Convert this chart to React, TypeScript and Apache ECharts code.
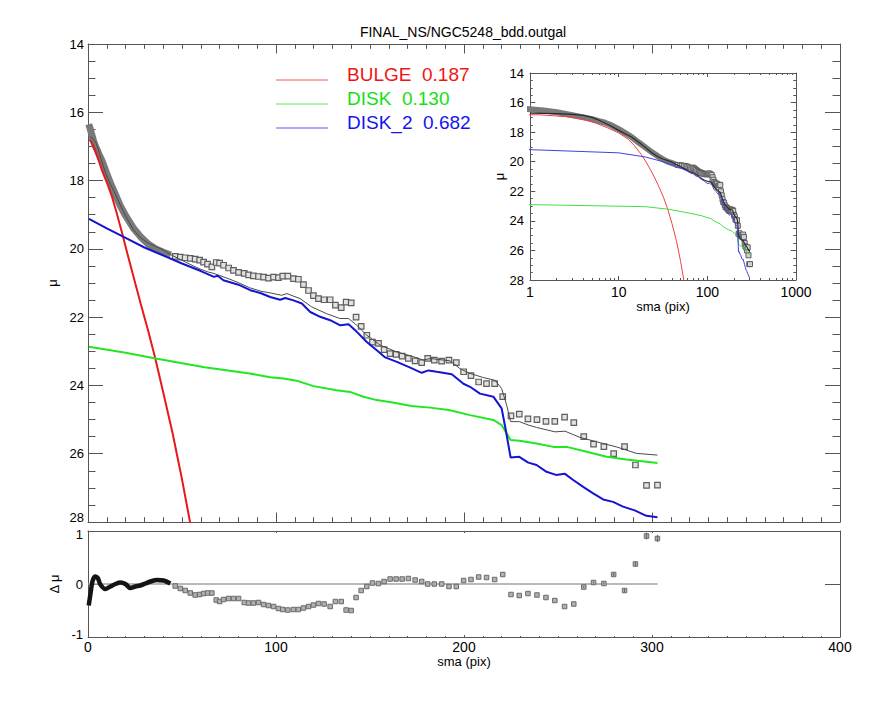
import React, { useEffect, useRef } from "react";
import * as echarts from "echarts";

const FONT = "Liberation Sans";
const AXC = "#555";

const titleText = "FINAL_NS/NGC5248_bdd.outgal";
const legendLabels = ["BULGE  0.187", "DISK  0.130", "DISK_2  0.682"];
const legendColors = ["#f01414", "#14e014", "#1414f0"];
const legendLineColors = ["#f05a5a", "#5ae65a", "#5a5af0"];

const mainXTicks = [0, 100, 200, 300, 400];
const residYLabels = [-1, 0, 1];
const mainYBottomLabel = 28;
const insetMinorTicks = [2, 3, 4, 5, 6, 7, 8, 9, 20, 30, 40, 50, 60, 70, 80, 90, 200, 300, 400, 500, 600, 700, 800, 900];

// inner (dense) data points
const innerSma = [0.4, 1, 1.5, 2, 3, 4, 5, 6, 7, 8, 10, 12, 14, 17, 20, 24, 28, 32, 36, 40, 44];
const innerMu = [16.35, 16.45, 16.55, 16.65, 16.85, 17.0, 17.12, 17.25, 17.36, 17.5, 17.8, 18.08, 18.33, 18.72, 19.03, 19.38, 19.65, 19.86, 20.0, 20.1, 20.18];

// outer data points
const outerSma = [46.4, 49.1, 51.7, 54.4, 57.0, 59.4, 61.5, 63.6, 65.9, 68.2, 70.0, 72.1, 74.8, 77.4, 80.1, 83.1, 85.4, 88.0, 90.7, 93.4, 96.0, 98.7, 101.3, 103.6, 106.3, 109.3, 111.9, 114.6, 117.3, 119.9, 122.6, 125.6, 128.8, 131.6, 134.7, 137.3, 140.0, 142.6, 145.3, 148.3, 151.3, 154.5, 157.5, 160.7, 163.9, 167.1, 170.4, 174.0, 177.5, 180.7, 184.2, 188.1, 192.0, 195.9, 199.8, 203.7, 207.8, 212.0, 216.3, 220.6, 225.0, 229.4, 234.0, 238.8, 243.6, 248.3, 253.5, 258.4, 263.7, 268.9, 274.4, 279.6, 285.4, 291.2, 297.1, 302.9];
const outerMu = [20.22, 20.24, 20.26, 20.28, 20.30, 20.33, 20.39, 20.45, 20.53, 20.40, 20.42, 20.48, 20.56, 20.63, 20.69, 20.72, 20.76, 20.79, 20.81, 20.83, 20.86, 20.83, 20.84, 20.80, 20.80, 20.87, 20.89, 21.05, 21.22, 21.37, 21.46, 21.49, 21.49, 21.65, 21.72, 21.56, 21.58, 22.00, 22.27, 22.53, 22.73, 22.77, 22.95, 23.07, 23.09, 23.14, 23.21, 23.28, 23.33, 23.21, 23.26, 23.29, 23.26, 23.33, 23.60, 23.71, 23.90, 23.95, 23.95, 24.33, 24.89, 24.84, 24.98, 25.00, 25.05, 25.05, 24.93, 25.09, 25.50, 25.72, 25.79, 26.00, 25.79, 26.33, 26.93, 26.92];
const outerResid = [-0.04, -0.09, -0.13, -0.18, -0.22, -0.21, -0.19, -0.18, -0.18, -0.32, -0.35, -0.31, -0.29, -0.29, -0.29, -0.37, -0.38, -0.38, -0.37, -0.41, -0.43, -0.45, -0.49, -0.51, -0.52, -0.51, -0.51, -0.48, -0.45, -0.42, -0.39, -0.40, -0.45, -0.35, -0.35, -0.52, -0.53, -0.27, -0.13, -0.05, 0.02, 0.01, 0.05, 0.10, 0.10, 0.10, 0.11, 0.08, 0.05, 0.00, 0.00, 0.00, -0.05, -0.05, 0.07, 0.09, 0.14, 0.13, 0.09, 0.19, -0.21, -0.23, -0.19, -0.22, -0.27, -0.33, -0.45, -0.40, -0.06, 0.03, 0.01, 0.19, -0.13, 0.40, 0.96, 0.91];
// error half-lengths of the last 8 residual points
const residErr = [0.02, 0.02, 0.02, 0.03, 0.04, 0.05, 0.07, 0.07];

// inner residuals
const residInnerSma = [0.4, 1.3, 2.5, 3.9, 5.2, 6.6, 9.2, 11.9, 14.6, 17.2, 19.9, 22.5, 25.2, 27.8, 30.5, 33.2, 36.7, 40.2, 43.8];
const residInnerVal = [-0.43, -0.2, 0.07, 0.15, 0.12, -0.01, -0.1, -0.05, 0, 0.03, 0, -0.08, -0.05, -0.03, 0.01, 0.05, 0.08, 0.07, 0.01];
const zeroLineSma = [0, 303];

// model components
const bulgeSma = [0.5, 1.3, 2.5, 3.9, 5.5, 7.5, 10, 12.8, 15, 18.1, 21, 24.6, 28, 32, 35.8, 40, 45, 50, 54.4, 57];
const bulgeMu = [16.82, 16.83, 16.95, 17.12, 17.38, 17.71, 18.05, 18.48, 18.9, 19.53, 20.15, 20.9, 21.6, 22.4, 23.21, 24.2, 25.4, 26.75, 28.04, 28.7];

const diskSma = [0.5, 20, 36, 62, 86, 96.9, 104, 111, 119.9, 132.3, 139.4, 146.5, 153.6, 162, 172, 182, 192, 203.2, 215.6, 220, 224.8, 229.5, 238.6, 247.5, 254.6, 265.3, 275.8, 286.4, 302.9];
const diskMu = [22.87, 23.04, 23.21, 23.47, 23.65, 23.76, 23.8, 23.86, 24.02, 24.14, 24.19, 24.33, 24.43, 24.5, 24.6, 24.65, 24.72, 24.87, 25.01, 25.16, 25.6, 25.62, 25.7, 25.8, 25.8, 25.94, 26.09, 26.17, 26.27];

const disk2Sma = [0.5, 10, 20, 30, 42, 50, 60, 67, 69, 72, 80, 86.3, 92, 96.9, 102.2, 104.9, 109.3, 113.8, 118.2, 123.5, 128.8, 134.2, 138.6, 143, 148.3, 153.6, 158.1, 164.3, 171.4, 177.5, 181.1, 185.5, 193.5, 199.7, 203.2, 208.5, 215.6, 220, 221.9, 224.8, 229.4, 234.2, 238.6, 243.9, 248.9, 253.7, 258.1, 263.4, 268.7, 274, 279.3, 284.6, 290.8, 297, 302.9];
const disk2Mu = [19.12, 19.4, 19.68, 19.96, 20.24, 20.43, 20.65, 20.82, 20.79, 20.92, 21.05, 21.21, 21.3, 21.41, 21.49, 21.44, 21.51, 21.6, 21.85, 21.99, 22.09, 22.24, 22.21, 22.43, 22.73, 22.97, 23.18, 23.31, 23.48, 23.63, 23.56, 23.6, 23.67, 23.95, 24.04, 24.24, 24.33, 24.67, 25.21, 26.11, 26.09, 26.26, 26.33, 26.53, 26.62, 26.59, 26.77, 26.97, 27.16, 27.34, 27.41, 27.55, 27.66, 27.82, 27.86];

const totalSma = [1, 2, 3, 4, 5, 6, 8, 10, 12, 14, 17, 20, 24, 28, 32, 36, 40, 44, 48, 52, 56, 60, 64, 67, 70, 75, 80, 86, 92, 96.9, 103, 105.8, 112.9, 119, 127, 134, 138.6, 143, 148.3, 155.4, 164.3, 173.2, 178.5, 182, 192.6, 197.9, 203.2, 210.3, 216.5, 220, 222.7, 224.8, 229.5, 234.2, 238.6, 248.4, 253.7, 261.6, 270.4, 281.1, 291.7, 302.9];
const totalMu = [16.72, 16.75, 16.8, 16.87, 17.0, 17.2, 17.55, 17.88, 18.12, 18.33, 18.7, 19.03, 19.43, 19.68, 19.83, 19.93, 20.03, 20.17, 20.28, 20.39, 20.5, 20.6, 20.68, 20.72, 20.78, 20.88, 20.99, 21.14, 21.24, 21.29, 21.36, 21.31, 21.46, 21.7, 21.9, 22.04, 22.04, 22.24, 22.53, 22.82, 23.02, 23.16, 23.26, 23.21, 23.28, 23.51, 23.65, 23.77, 23.85, 24.09, 24.58, 25.06, 25.06, 25.16, 25.23, 25.36, 25.34, 25.52, 25.65, 25.8, 25.99, 26.04];

const zip = (xs: number[], ys: number[]) => xs.map((x, i) => [x, ys[i]]);

function buildOption() {
  const lineStyleAx = { color: AXC, width: 1 };
  const labelStyle = { fontFamily: FONT, fontSize: 14, color: "#000" };
  const yLabelStyle = { fontFamily: FONT, fontSize: 13, color: "#000" };

  const valX = (grid: number, pos: string, showLabel: boolean, tickLen: number, minorLen: number, extra: any = {}) => ({
    type: "value",
    gridIndex: grid,
    position: pos,
    min: 0,
    max: 400,
    interval: 100,
    axisLine: { show: true, onZero: false, lineStyle: lineStyleAx },
    axisTick: { show: true, inside: true, length: tickLen, lineStyle: lineStyleAx },
    minorTick: { show: true, splitNumber: 10, length: minorLen, lineStyle: lineStyleAx },
    axisLabel: { show: showLabel, margin: 3, ...labelStyle },
    splitLine: { show: false },
    minorSplitLine: { show: false },
    ...extra,
  });

  const muY = (grid: number, pos: string, showLabel: boolean, tickLen: number, minorLen: number, margin: number, extra: any = {}, fmt?: (v: number) => string) => ({
    type: "value",
    gridIndex: grid,
    position: pos,
    min: 14,
    max: 28,
    interval: 2,
    inverse: true,
    axisLine: { show: true, onZero: false, lineStyle: lineStyleAx },
    axisTick: { show: true, inside: true, length: tickLen, lineStyle: lineStyleAx },
    minorTick: { show: true, splitNumber: 4, length: minorLen, lineStyle: lineStyleAx },
    axisLabel: { show: showLabel, margin, ...(fmt ? { formatter: fmt } : {}), ...yLabelStyle },
    splitLine: { show: false },
    minorSplitLine: { show: false },
    ...extra,
  });

  const logX = (pos: string, showLabel: boolean, extra: any = {}) => ({
    type: "log",
    logBase: 10,
    gridIndex: 2,
    position: pos,
    min: 1,
    max: 1000,
    axisLine: { show: true, onZero: false, lineStyle: lineStyleAx },
    axisTick: { show: true, inside: true, length: 4, lineStyle: lineStyleAx },
    minorTick: { show: false },
    axisLabel: { show: showLabel, margin: 5, formatter: (v: number) => String(Math.round(v)), ...labelStyle },
    splitLine: { show: false },
    ...extra,
  });

  const logMinor = (pos: string) => ({
    type: "log",
    logBase: 10,
    gridIndex: 2,
    position: pos,
    min: 1,
    max: 1000,
    axisLine: { show: false, onZero: false },
    axisTick: { show: true, inside: true, length: 2, customValues: insetMinorTicks, lineStyle: lineStyleAx },
    axisLabel: { show: false },
    splitLine: { show: false },
  });

  const residY = (pos: string, showLabel: boolean, extra: any = {}) => ({
    type: "value",
    gridIndex: 1,
    position: pos,
    min: -1.06,
    max: 1.06,
    axisLine: { show: true, onZero: false, lineStyle: lineStyleAx },
    axisTick: { show: true, inside: true, length: 15, customValues: [0], lineStyle: lineStyleAx },
    minorTick: { show: false },
    axisLabel: { show: showLabel, margin: 5, customValues: residYLabels, ...yLabelStyle },
    splitLine: { show: false },
    ...extra,
  });

  const nameStyle = { fontFamily: FONT, fontSize: 13, color: "#000" };

  const xAxis = [
    valX(0, "bottom", false, 9.5, 4.8, { axisTick: { show: true, inside: true, length: 9.5, customValues: mainXTicks, lineStyle: lineStyleAx } }),
    valX(0, "top", false, 9.5, 4.8),
    valX(1, "bottom", true, 2, 1, {
      name: "sma (pix)",
      nameLocation: "middle",
      nameGap: 17,
      nameTextStyle: nameStyle,
    }),
    valX(1, "top", false, 2, 1),
    logX("bottom", true, { name: "sma (pix)", nameLocation: "middle", nameGap: 20, nameTextStyle: nameStyle }),
    logX("top", false),
    logMinor("bottom"),
    logMinor("top"),
  ];

  const yAxis = [
    muY(0, "left", true, 15, 7.5, 4, {
      name: "μ",
      nameLocation: "middle",
      nameRotate: 90,
      nameGap: 18,
      nameTextStyle: nameStyle,
    }, (v: number) => (v === mainYBottomLabel ? "" : String(v))),
    muY(0, "right", false, 15, 7.5, 4),
    residY("left", true, {
      name: "Δ μ",
      nameLocation: "middle",
      nameRotate: 90,
      nameGap: 14,
      nameTextStyle: nameStyle,
    }),
    residY("right", false),
    muY(2, "left", true, 5.3, 2.7, 6, {
      name: "μ",
      nameLocation: "middle",
      nameRotate: 90,
      nameGap: 19,
      nameTextStyle: nameStyle,
    }),
    muY(2, "right", false, 5.3, 2.7, 6),
  ];

  const lineS = (data: number[][], color: string, width: number, xi: number, yi: number, z = 3, extra: any = {}) => ({
    type: "line",
    xAxisIndex: xi,
    yAxisIndex: yi,
    data,
    symbol: "none",
    showSymbol: false,
    clip: true,
    lineStyle: { color, width },
    itemStyle: { color },
    z,
    silent: true,
    ...extra,
  });

  const sq = (data: number[][], size: number, fill: string, border: string, xi: number, yi: number, bw = 1) => ({
    type: "scatter",
    xAxisIndex: xi,
    yAxisIndex: yi,
    data,
    symbol: "rect",
    symbolSize: size,
    clip: true,
    itemStyle: { color: fill, borderColor: border, borderWidth: bw, opacity: 1 },
    z: 2,
    silent: true,
  });

  const inner = zip(innerSma, innerMu);
  const outer = zip(outerSma, outerMu);
  const total = zip(totalSma, totalMu);
  const bulge = zip(bulgeSma, bulgeMu);
  const disk = zip(diskSma, diskMu);
  const disk2 = zip(disk2Sma, disk2Mu);

  const n = outerSma.length;
  const errData = residErr.map((e, i) => {
    const k = n - residErr.length + i;
    return [outerSma[k], outerResid[k], e];
  });

  const series: any[] = [
    // main panel
    lineS(inner, "#7a7a7a", 7, 0, 0, 1),
    sq(outer, 5.5, "#e2e2e2", "#5e5e5e", 0, 0, 1.2),
    lineS(total, "#4a4a4a", 1, 0, 0, 4),
    lineS(bulge, "#e81818", 2, 0, 0, 5),
    lineS(disk, "#22e622", 2, 0, 0, 5),
    lineS(disk2, "#1414d2", 2, 0, 0, 5),
    // residual panel
    lineS(zip(zeroLineSma, [0, 0]), "#a0a0a0", 1.5, 2, 2, 1),
    lineS(zip(residInnerSma, residInnerVal), "#141414", 4.5, 2, 2, 3, { smooth: 0.3 }),
    sq(zip(outerSma, outerResid), 4.5, "#b0b0b0", "#6a6a6a", 2, 2, 1),
    {
      type: "custom",
      xAxisIndex: 2,
      yAxisIndex: 2,
      data: errData,
      encode: { x: 0, y: 1 },
      z: 3,
      silent: true,
      renderItem: (params: any, api: any) => {
        const x = api.value(0);
        const y = api.value(1);
        const e = api.value(2);
        const p1 = api.coord([x, y - e]);
        const p2 = api.coord([x, y + e]);
        return {
          type: "line",
          shape: { x1: p1[0], y1: p1[1], x2: p2[0], y2: p2[1] },
          style: { stroke: "#666", lineWidth: 1 },
        };
      },
    },
    // inset panel
    lineS(inner, "#7a7a7a", 6, 4, 4, 1),
    sq(outer, 5, "#d0d0d0", "#5e5e5e", 4, 4, 1),
    lineS(total, "#2a2a2a", 1.2, 4, 4, 4),
    lineS(bulge, "#f04040", 1, 4, 4, 5),
    lineS(disk, "#40e040", 1, 4, 4, 5),
    lineS(disk2, "#4040e0", 1, 4, 4, 5),
  ];

  const legendY = [80, 104, 128];
  const graphic: any[] = [
    {
      type: "text",
      x: 463,
      y: 32,
      style: { text: titleText, fontFamily: FONT, fontSize: 14, fill: "#000", align: "center", verticalAlign: "middle" },
    },
    {
      // bottom label of the main mu axis, lifted slightly so it clears the residual panel's "1"
      type: "text",
      x: 84,
      y: 517.5,
      style: { text: String(mainYBottomLabel), fontFamily: FONT, fontSize: 13, fill: "#000", align: "right", verticalAlign: "middle" },
    },
  ];
  legendLabels.forEach((lab, i) => {
    graphic.push({
      type: "line",
      shape: { x1: 276, y1: legendY[i], x2: 328, y2: legendY[i] },
      style: { stroke: legendLineColors[i], lineWidth: 1 },
    });
    graphic.push({
      type: "text",
      x: 347,
      y: legendY[i] - 5.5,
      style: { text: lab, fontFamily: FONT, fontSize: 19, fill: legendColors[i], align: "left", verticalAlign: "middle" },
    });
  });

  return {
    animation: false,
    backgroundColor: "#fff",
    grid: [
      { left: 88, top: 44, width: 752, height: 478, containLabel: false },
      { left: 88, top: 531, width: 752, height: 106, containLabel: false },
      { left: 530, top: 73, width: 266, height: 207, containLabel: false },
    ],
    xAxis,
    yAxis,
    series,
    graphic,
  };
}

export default function App() {
  const ref = useRef<HTMLDivElement>(null);
  useEffect(() => {
    document.body.style.margin = "0";
    if (!ref.current) return;
    const chart = echarts.init(ref.current, null, { renderer: "svg" });
    chart.setOption(buildOption() as any);
    return () => {
      chart.dispose();
    };
  }, []);
  return <div ref={ref} style={{ width: 885, height: 708, background: "#fff" }} />;
}
